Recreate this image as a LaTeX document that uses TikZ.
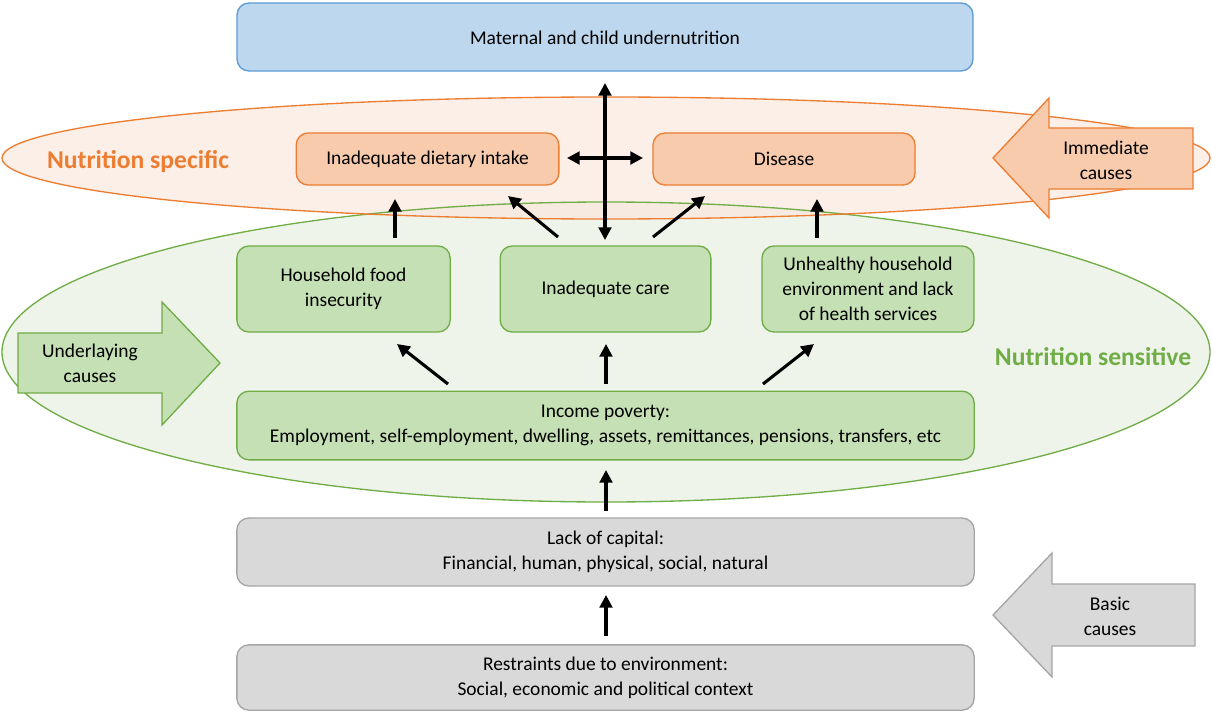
\documentclass[tikz,border=0pt]{standalone}
\usepackage{fontspec}
\setmainfont{Carlito}
\usetikzlibrary{arrows.meta}
\definecolor{bluefill}{HTML}{BDD7EE}
\definecolor{bluedraw}{HTML}{5B9BD5}
\definecolor{orfill}{HTML}{F8CBAD}
\definecolor{ordraw}{HTML}{ED7D31}
\definecolor{orlight}{HTML}{FBE9DF}
\definecolor{grfill}{HTML}{C5E0B4}
\definecolor{grdraw}{HTML}{70AD47}
\definecolor{grlight}{HTML}{ECF2E6}
\definecolor{gyfill}{HTML}{D9D9D9}
\definecolor{gydraw}{HTML}{A5A5A5}
\tikzset{
  box/.style={rounded corners=9pt, line width=1pt, align=center, font=\fontsize{14.6}{18.75}\selectfont, inner sep=0pt},
  bluebox/.style={box, fill=bluefill, draw=bluedraw},
  orbox/.style={box, fill=orfill, draw=ordraw},
  grbox/.style={box, fill=grfill, draw=grdraw},
  gybox/.style={box, fill=gyfill, draw=gydraw},
  arr/.style={line width=2.3pt, -{Triangle[length=9.5pt,width=9.5pt]}},
  darr/.style={line width=2.3pt, {Triangle[length=9.5pt,width=9.5pt]}-{Triangle[length=9.5pt,width=9.5pt]}},
  lbl/.style={align=center, font=\fontsize{14.6}{18.75}\selectfont},
  biglbl/.style={font=\fontsize{19.2}{22}\selectfont\bfseries}
}
\begin{document}
\begin{tikzpicture}[x=0.75pt,y=-0.75pt]
\useasboundingbox (0,0) rectangle (1212,713);
% ellipses
\fill[grlight, fill opacity=0.85] (606,352) ellipse [x radius=604, y radius=150];
\fill[orlight, fill opacity=0.75] (606,158) ellipse [x radius=604, y radius=61];
\draw[grdraw, line width=1pt] (606,352) ellipse [x radius=604, y radius=150];
\draw[ordraw, line width=1pt] (606,158) ellipse [x radius=604, y radius=61];
% big arrows
\draw[ordraw, fill=orfill, line width=1pt] (993,158) -- (1049,98) -- (1049,128) -- (1193,128) -- (1193,189) -- (1049,189) -- (1049,218) -- cycle;
\node[lbl] (imm) at (1106,160) {Immediate\\causes};
\draw[grdraw, fill=grfill, line width=1pt] (18,333) -- (162,333) -- (162,302) -- (220,363) -- (162,425) -- (162,393) -- (18,393) -- cycle;
\node[lbl] (und) at (90,363) {Underlaying\\causes};
\draw[gydraw, fill=gyfill, line width=1pt] (993,615) -- (1052,553) -- (1052,584) -- (1195,584) -- (1195,646) -- (1052,646) -- (1052,677) -- cycle;
\node[lbl] (bas) at (1110,616) {Basic\\causes};
% labels
\node[biglbl, text=ordraw] (nspec) at (138,162) {Nutrition specific};
\node[biglbl, text=grdraw] (nsens) at (1093,357) {Nutrition sensitive};
% boxes
\path[bluebox] (237,3) rectangle (973,71);
\node[lbl] (mat) at (605,38) {Maternal and child undernutrition};
\node[orbox, minimum width=197pt, minimum height=39pt] (diet) at (427.5,159) {Inadequate dietary intake};
\node[orbox, minimum width=196.5pt, minimum height=39pt] (dis) at (784,159) {Disease};
\node[grbox, minimum width=160pt, minimum height=64.5pt] (food) at (343.5,289) {Household food\\insecurity};
\node[grbox, minimum width=158pt, minimum height=64.5pt] (care) at (605.5,289) {Inadequate care};
\node[grbox, minimum width=159pt, minimum height=64.5pt] (env) at (868,289) {Unhealthy household\\environment and lack\\of health services};
\node[grbox, minimum width=553pt, minimum height=51.5pt] (inc) at (605.5,425.5) {Income poverty:\\Employment, self-employment, dwelling, assets, remittances, pensions, transfers, etc};
\node[gybox, minimum width=553pt, minimum height=51pt] (cap) at (605.5,552) {Lack of capital:\\Financial, human, physical, social, natural};
\node[gybox, minimum width=553pt, minimum height=49pt] (res) at (605.5,677.5) {Restraints due to environment:\\Social, economic and political context};
% arrows
\draw[darr] (605,83) -- (605,240);
\draw[darr] (567,158) -- (643,158);
\draw[arr] (395,238) -- (395,199);
\draw[arr] (558,237) -- (508,196);
\draw[arr] (653,237) -- (705,196);
\draw[arr] (817,238) -- (817,199);
\draw[arr] (448,384) -- (397,344);
\draw[arr] (606,384) -- (606,344);
\draw[arr] (763,384) -- (814,344);
\draw[arr] (606,511) -- (606,470);
\draw[arr] (606,636) -- (606,595);
\end{tikzpicture}
\end{document}
